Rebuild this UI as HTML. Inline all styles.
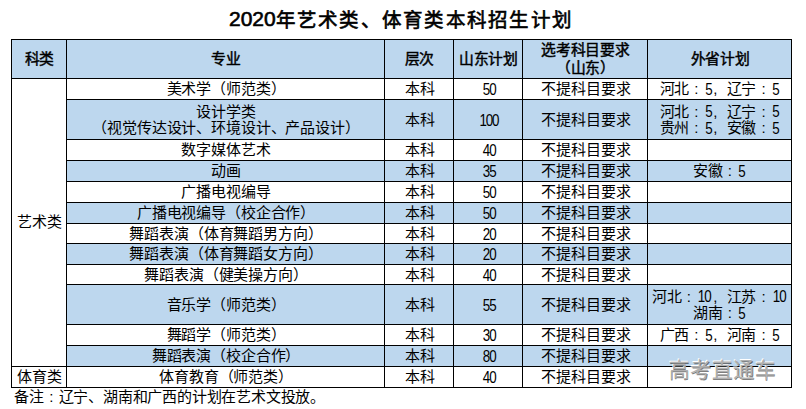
<!DOCTYPE html>
<html lang="zh-CN"><head><meta charset="utf-8">
<style>
html,body{margin:0;padding:0;background:#fff;}
body{width:806px;height:409px;position:relative;overflow:hidden;font-family:"Liberation Sans",sans-serif;color:#000;}
.c{position:absolute;display:flex;align-items:center;justify-content:center;text-align:center;font-size:15.0px;line-height:16.6px;box-sizing:border-box;padding-top:2.5px;padding-left:2px;}
.c span{display:block;white-space:nowrap;}
b{font-weight:normal;}
.n{display:inline-block;font-size:15.9px;letter-spacing:-1.3px;text-indent:0.65px;transform:scaleX(0.84);position:relative;top:0.8px;}
.cl{display:inline-block;width:1em;text-align:center;}
.cm{display:inline-block;width:1em;text-align:left;text-indent:1.5px;}
.h{font-size:14.8px;letter-spacing:-0.3px;-webkit-text-stroke:0.45px #000;line-height:17.5px;}
.m{letter-spacing:-0.15px;}
.o{letter-spacing:-0.5px;padding-left:0.5px;}
i{position:absolute;background:#000;display:block;}
.title{position:absolute;left:229px;top:6px;font-size:21px;-webkit-text-stroke:0.6px #000;line-height:26px;white-space:nowrap;}
.title .cj{font-size:19.5px;letter-spacing:1.25px;position:relative;top:0.5px;}
.note{position:absolute;left:14px;top:388px;letter-spacing:-0.2px;font-size:15.0px;line-height:18px;white-space:nowrap;}
.wm{position:absolute;left:668.5px;top:356px;font-size:21px;letter-spacing:0.6px;line-height:28px;color:#b0b0b0;white-space:nowrap;text-shadow:0.6px 0.8px 0.5px rgba(40,40,40,.6),-0.8px -0.8px 0.6px #fff;}
</style></head><body>
<div class="title"><span class="d">2020</span><span class="cj">年艺术类、体育类本科招生计划</span></div>
<div class="c h" style="left:11px;top:39px;width:55px;height:39px;background:#BDD7EE;"><span>科类</span></div><div class="c h" style="left:66px;top:39px;width:318px;height:39px;background:#BDD7EE;"><span>专业</span></div><div class="c h" style="left:384px;top:39px;width:69px;height:39px;background:#BDD7EE;"><span>层次</span></div><div class="c h" style="left:453px;top:39px;width:69px;height:39px;background:#BDD7EE;"><span>山东计划</span></div><div class="c h" style="left:522px;top:39px;width:125px;height:39px;background:#BDD7EE;"><span>选考科目要求<br>（山东）</span></div><div class="c h" style="left:647px;top:39px;width:144px;height:39px;background:#BDD7EE;"><span>外省计划</span></div><div class="c m" style="left:66px;top:78px;width:318px;height:21px;"><span>美术学（师范类）</span></div><div class="c" style="left:384px;top:78px;width:69px;height:21px;"><span>本科</span></div><div class="c" style="left:453px;top:78px;width:69px;height:21px;"><span><b class="n">50</b></span></div><div class="c" style="left:522px;top:78px;width:125px;height:21px;"><span>不提科目要求</span></div><div class="c o" style="left:647px;top:78px;width:144px;height:21px;"><span>河北<b class="cl">:</b><b class="n">5</b><b class="cm">,</b>辽宁<b class="cl">:</b><b class="n">5</b></span></div><div class="c m" style="left:66px;top:99px;width:318px;height:40px;background:#BDD7EE;"><span>设计学类<br>（视觉传达设计、环境设计、产品设计）</span></div><div class="c" style="left:384px;top:99px;width:69px;height:40px;background:#BDD7EE;"><span>本科</span></div><div class="c" style="left:453px;top:99px;width:69px;height:40px;background:#BDD7EE;"><span><b class="n">100</b></span></div><div class="c" style="left:522px;top:99px;width:125px;height:40px;background:#BDD7EE;"><span>不提科目要求</span></div><div class="c o" style="left:647px;top:99px;width:144px;height:40px;background:#BDD7EE;"><span>河北<b class="cl">:</b><b class="n">5</b><b class="cm">,</b>辽宁<b class="cl">:</b><b class="n">5</b><br>贵州<b class="cl">:</b><b class="n">5</b><b class="cm">,</b>安徽<b class="cl">:</b><b class="n">5</b></span></div><div class="c m" style="left:66px;top:139px;width:318px;height:21px;"><span>数字媒体艺术</span></div><div class="c" style="left:384px;top:139px;width:69px;height:21px;"><span>本科</span></div><div class="c" style="left:453px;top:139px;width:69px;height:21px;"><span><b class="n">40</b></span></div><div class="c" style="left:522px;top:139px;width:125px;height:21px;"><span>不提科目要求</span></div><div class="c o" style="left:647px;top:139px;width:144px;height:21px;"><span></span></div><div class="c m" style="left:66px;top:160px;width:318px;height:21px;background:#BDD7EE;"><span>动画</span></div><div class="c" style="left:384px;top:160px;width:69px;height:21px;background:#BDD7EE;"><span>本科</span></div><div class="c" style="left:453px;top:160px;width:69px;height:21px;background:#BDD7EE;"><span><b class="n">35</b></span></div><div class="c" style="left:522px;top:160px;width:125px;height:21px;background:#BDD7EE;"><span>不提科目要求</span></div><div class="c o" style="left:647px;top:160px;width:144px;height:21px;background:#BDD7EE;"><span>安徽<b class="cl">:</b><b class="n">5</b></span></div><div class="c m" style="left:66px;top:181px;width:318px;height:21px;"><span>广播电视编导</span></div><div class="c" style="left:384px;top:181px;width:69px;height:21px;"><span>本科</span></div><div class="c" style="left:453px;top:181px;width:69px;height:21px;"><span><b class="n">50</b></span></div><div class="c" style="left:522px;top:181px;width:125px;height:21px;"><span>不提科目要求</span></div><div class="c o" style="left:647px;top:181px;width:144px;height:21px;"><span></span></div><div class="c m" style="left:66px;top:202px;width:318px;height:21px;background:#BDD7EE;"><span>广播电视编导（校企合作）</span></div><div class="c" style="left:384px;top:202px;width:69px;height:21px;background:#BDD7EE;"><span>本科</span></div><div class="c" style="left:453px;top:202px;width:69px;height:21px;background:#BDD7EE;"><span><b class="n">50</b></span></div><div class="c" style="left:522px;top:202px;width:125px;height:21px;background:#BDD7EE;"><span>不提科目要求</span></div><div class="c o" style="left:647px;top:202px;width:144px;height:21px;background:#BDD7EE;"><span></span></div><div class="c m" style="left:66px;top:223px;width:318px;height:20px;"><span>舞蹈表演（体育舞蹈男方向）</span></div><div class="c" style="left:384px;top:223px;width:69px;height:20px;"><span>本科</span></div><div class="c" style="left:453px;top:223px;width:69px;height:20px;"><span><b class="n">20</b></span></div><div class="c" style="left:522px;top:223px;width:125px;height:20px;"><span>不提科目要求</span></div><div class="c o" style="left:647px;top:223px;width:144px;height:20px;"><span></span></div><div class="c m" style="left:66px;top:243px;width:318px;height:21px;background:#BDD7EE;"><span>舞蹈表演（体育舞蹈女方向）</span></div><div class="c" style="left:384px;top:243px;width:69px;height:21px;background:#BDD7EE;"><span>本科</span></div><div class="c" style="left:453px;top:243px;width:69px;height:21px;background:#BDD7EE;"><span><b class="n">20</b></span></div><div class="c" style="left:522px;top:243px;width:125px;height:21px;background:#BDD7EE;"><span>不提科目要求</span></div><div class="c o" style="left:647px;top:243px;width:144px;height:21px;background:#BDD7EE;"><span></span></div><div class="c m" style="left:66px;top:264px;width:318px;height:20px;"><span>舞蹈表演（健美操方向）</span></div><div class="c" style="left:384px;top:264px;width:69px;height:20px;"><span>本科</span></div><div class="c" style="left:453px;top:264px;width:69px;height:20px;"><span><b class="n">40</b></span></div><div class="c" style="left:522px;top:264px;width:125px;height:20px;"><span>不提科目要求</span></div><div class="c o" style="left:647px;top:264px;width:144px;height:20px;"><span></span></div><div class="c m" style="left:66px;top:284px;width:318px;height:40px;background:#BDD7EE;"><span>音乐学（师范类）</span></div><div class="c" style="left:384px;top:284px;width:69px;height:40px;background:#BDD7EE;"><span>本科</span></div><div class="c" style="left:453px;top:284px;width:69px;height:40px;background:#BDD7EE;"><span><b class="n">55</b></span></div><div class="c" style="left:522px;top:284px;width:125px;height:40px;background:#BDD7EE;"><span>不提科目要求</span></div><div class="c o" style="left:647px;top:284px;width:144px;height:40px;background:#BDD7EE;"><span>河北<b class="cl">:</b><b class="n">10</b><b class="cm">,</b>江苏<b class="cl">:</b><b class="n">10</b><br>湖南<b class="cl">:</b><b class="n">5</b></span></div><div class="c m" style="left:66px;top:324px;width:318px;height:21px;"><span>舞蹈学（师范类）</span></div><div class="c" style="left:384px;top:324px;width:69px;height:21px;"><span>本科</span></div><div class="c" style="left:453px;top:324px;width:69px;height:21px;"><span><b class="n">30</b></span></div><div class="c" style="left:522px;top:324px;width:125px;height:21px;"><span>不提科目要求</span></div><div class="c o" style="left:647px;top:324px;width:144px;height:21px;"><span>广西<b class="cl">:</b><b class="n">5</b><b class="cm">,</b>河南<b class="cl">:</b><b class="n">5</b></span></div><div class="c m" style="left:66px;top:345px;width:318px;height:21px;background:#BDD7EE;"><span>舞蹈表演（校企合作）</span></div><div class="c" style="left:384px;top:345px;width:69px;height:21px;background:#BDD7EE;"><span>本科</span></div><div class="c" style="left:453px;top:345px;width:69px;height:21px;background:#BDD7EE;"><span><b class="n">80</b></span></div><div class="c" style="left:522px;top:345px;width:125px;height:21px;background:#BDD7EE;"><span>不提科目要求</span></div><div class="c o" style="left:647px;top:345px;width:144px;height:21px;background:#BDD7EE;"><span></span></div><div class="c m" style="left:66px;top:366px;width:318px;height:21px;"><span>体育教育（师范类）</span></div><div class="c" style="left:384px;top:366px;width:69px;height:21px;"><span>本科</span></div><div class="c" style="left:453px;top:366px;width:69px;height:21px;"><span><b class="n">40</b></span></div><div class="c" style="left:522px;top:366px;width:125px;height:21px;"><span>不提科目要求</span></div><div class="c o" style="left:647px;top:366px;width:144px;height:21px;"><span></span></div><div class="c" style="left:11px;top:78px;width:55px;height:288px;padding-top:1px;"><span>艺术类</span></div><div class="c" style="left:11px;top:366px;width:55px;height:21px;"><span>体育类</span></div>
<i style="left:11px;top:39px;width:781px;height:1px"></i><i style="left:11px;top:78px;width:781px;height:1px"></i><i style="left:66px;top:99px;width:726px;height:1px"></i><i style="left:66px;top:139px;width:726px;height:1px"></i><i style="left:66px;top:160px;width:726px;height:1px"></i><i style="left:66px;top:181px;width:726px;height:1px"></i><i style="left:66px;top:202px;width:726px;height:1px"></i><i style="left:66px;top:223px;width:726px;height:1px"></i><i style="left:66px;top:243px;width:726px;height:1px"></i><i style="left:66px;top:264px;width:726px;height:1px"></i><i style="left:66px;top:284px;width:726px;height:1px"></i><i style="left:66px;top:324px;width:726px;height:1px"></i><i style="left:66px;top:345px;width:726px;height:1px"></i><i style="left:11px;top:366px;width:781px;height:1px"></i><i style="left:11px;top:387px;width:781px;height:1px"></i><i style="left:11px;top:39px;width:1px;height:349px"></i><i style="left:66px;top:39px;width:1px;height:349px"></i><i style="left:384px;top:39px;width:1px;height:349px"></i><i style="left:453px;top:39px;width:1px;height:349px"></i><i style="left:522px;top:39px;width:1px;height:349px"></i><i style="left:647px;top:39px;width:1px;height:349px"></i><i style="left:791px;top:39px;width:1px;height:349px"></i>
<div class="note">备注<b class="cl">:</b>辽宁、湖南和广西的计划在艺术文投放。</div>
<div class="wm">高考直通车</div>
</body></html>
